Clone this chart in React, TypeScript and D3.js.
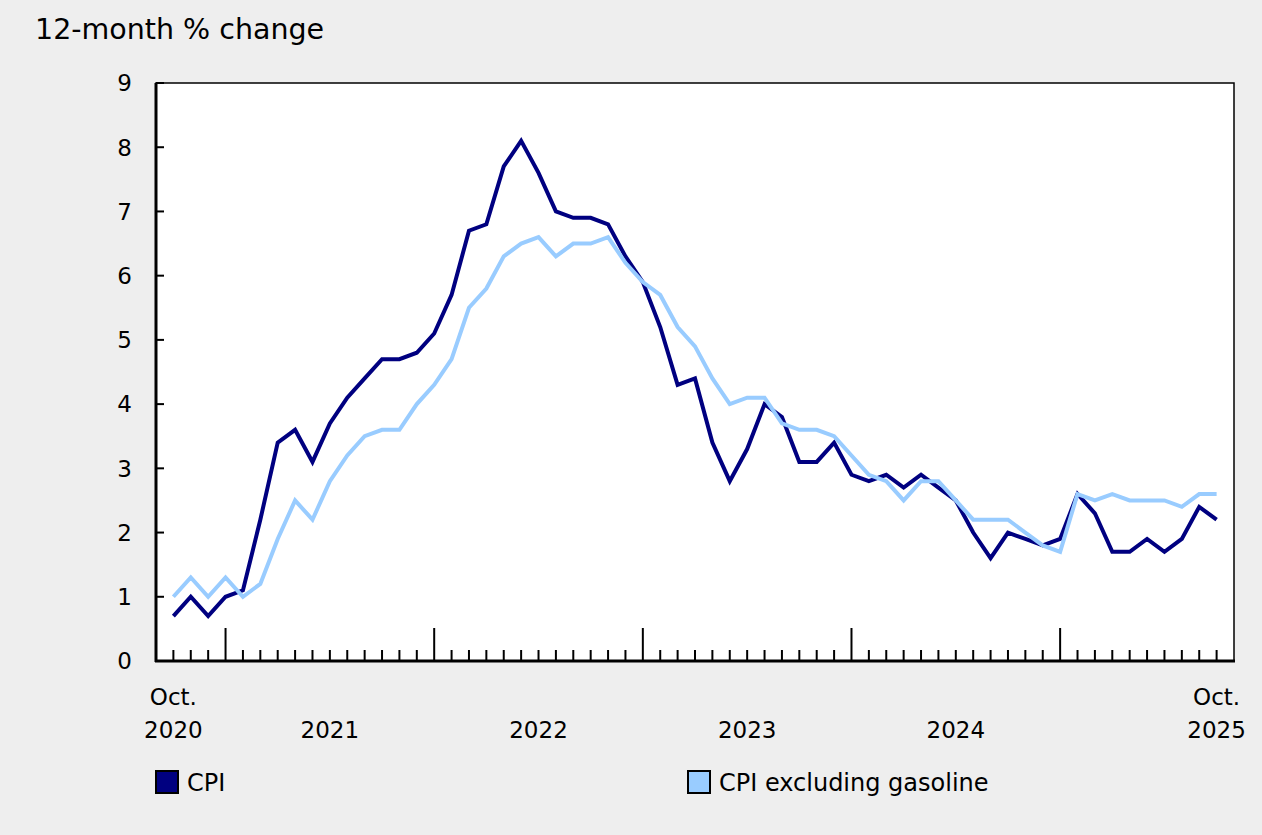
import React from "react";
import * as d3 from "d3";

const months: string[] = [
  "2020-10","2020-11","2020-12",
  "2021-01","2021-02","2021-03","2021-04","2021-05","2021-06","2021-07","2021-08","2021-09","2021-10","2021-11","2021-12",
  "2022-01","2022-02","2022-03","2022-04","2022-05","2022-06","2022-07","2022-08","2022-09","2022-10","2022-11","2022-12",
  "2023-01","2023-02","2023-03","2023-04","2023-05","2023-06","2023-07","2023-08","2023-09","2023-10","2023-11","2023-12",
  "2024-01","2024-02","2024-03","2024-04","2024-05","2024-06","2024-07","2024-08","2024-09","2024-10","2024-11","2024-12",
  "2025-01","2025-02","2025-03","2025-04","2025-05","2025-06","2025-07","2025-08","2025-09","2025-10",
];

const cpi: number[] = [
  0.7, 1.0, 0.7,
  1.0, 1.1, 2.2, 3.4, 3.6, 3.1, 3.7, 4.1, 4.4, 4.7, 4.7, 4.8,
  5.1, 5.7, 6.7, 6.8, 7.7, 8.1, 7.6, 7.0, 6.9, 6.9, 6.8, 6.3,
  5.9, 5.2, 4.3, 4.4, 3.4, 2.8, 3.3, 4.0, 3.8, 3.1, 3.1, 3.4,
  2.9, 2.8, 2.9, 2.7, 2.9, 2.7, 2.5, 2.0, 1.6, 2.0, 1.9, 1.8,
  1.9, 2.6, 2.3, 1.7, 1.7, 1.9, 1.7, 1.9, 2.4, 2.2,
];

const cpiExGas: number[] = [
  1.0, 1.3, 1.0,
  1.3, 1.0, 1.2, 1.9, 2.5, 2.2, 2.8, 3.2, 3.5, 3.6, 3.6, 4.0,
  4.3, 4.7, 5.5, 5.8, 6.3, 6.5, 6.6, 6.3, 6.5, 6.5, 6.6, 6.2,
  5.9, 5.7, 5.2, 4.9, 4.4, 4.0, 4.1, 4.1, 3.7, 3.6, 3.6, 3.5,
  3.2, 2.9, 2.8, 2.5, 2.8, 2.8, 2.5, 2.2, 2.2, 2.2, 2.0, 1.8,
  1.7, 2.6, 2.5, 2.6, 2.5, 2.5, 2.5, 2.4, 2.6, 2.6,
];

const yTicks: number[] = [0, 1, 2, 3, 4, 5, 6, 7, 8, 9];
const yearLabels: { label: string; month: string }[] = [
  { label: "2021", month: "2021-07" },
  { label: "2022", month: "2022-07" },
  { label: "2023", month: "2023-07" },
  { label: "2024", month: "2024-07" },
];
const endLabels: { top: string; bottom: string; month: string }[] = [
  { top: "Oct.", bottom: "2020", month: "2020-10" },
  { top: "Oct.", bottom: "2025", month: "2025-10" },
];

const seriesList = [
  { name: "CPI", values: cpi, color: "#000080" },
  { name: "CPI excluding gasoline", values: cpiExGas, color: "#99ccff" },
];

const W = 1262;
const H = 835;
const FONT = "Verdana, 'DejaVu Sans', sans-serif";

export default function App() {
  const left = 156, right = 1234, top = 83, bottom = 661;
  const x = d3.scaleLinear().domain([-1, months.length]).range([left, right]);
  const y = d3.scaleLinear().domain([0, 9]).range([bottom, top]);
  const idx = (m: string) => months.indexOf(m);

  const line = d3
    .line<number>()
    .x((_, i) => x(i))
    .y((d) => y(d));

  return (
    <svg
      width={W}
      height={H}
      style={{ position: "absolute", left: 0, top: 0, display: "block", background: "#eeeeee" }}
      fontFamily={FONT}
    >
      <rect x={0} y={0} width={W} height={H} fill="#eeeeee" />
      <text x={35} y={39} fontSize={28.5} fill="#000">12-month % change</text>
      <rect x={left} y={top} width={right - left} height={bottom - top} fill="#fff" stroke="#000" strokeWidth={1.5} />

      {yTicks.map((t) => (
        <g key={t}>
          <line x1={left} x2={left + 8} y1={y(t)} y2={y(t)} stroke="#000" strokeWidth={2} />
          <text x={132} y={y(t)} dy="0.36em" textAnchor="end" fontSize={23} fill="#000">{t}</text>
        </g>
      ))}

      {months.map((m, i) => {
        const major = m.endsWith("-01");
        return (
          <line key={m} x1={x(i)} x2={x(i)} y1={bottom} y2={bottom - (major ? 33 : 11)} stroke="#000" strokeWidth={2} />
        );
      })}

      {seriesList.map((s) => (
        <path key={s.name} d={line(s.values) || ""} fill="none" stroke={s.color} strokeWidth={4} strokeLinejoin="miter" />
      ))}

      <line x1={left} x2={left} y1={top} y2={bottom + 1} stroke="#000" strokeWidth={3} />
      <line x1={left - 1} x2={right + 1} y1={bottom} y2={bottom} stroke="#000" strokeWidth={3} />

      {yearLabels.map((l) => (
        <text key={l.label} x={x(idx(l.month))} y={738} textAnchor="middle" fontSize={23} fill="#000">{l.label}</text>
      ))}
      {endLabels.map((l) => (
        <g key={l.bottom}>
          <text x={x(idx(l.month))} y={705} textAnchor="middle" fontSize={23} fill="#000">{l.top}</text>
          <text x={x(idx(l.month))} y={738} textAnchor="middle" fontSize={23} fill="#000">{l.bottom}</text>
        </g>
      ))}

      {seriesList.map((s, i) => {
        const lx = i === 0 ? 156 : 688;
        return (
          <g key={s.name}>
            <rect x={lx} y={771} width={22} height={22} fill={s.color} stroke="#000" strokeWidth={2} />
            <text x={lx + 31} y={791} fontSize={24} fill="#000">{s.name}</text>
          </g>
        );
      })}
    </svg>
  );
}
